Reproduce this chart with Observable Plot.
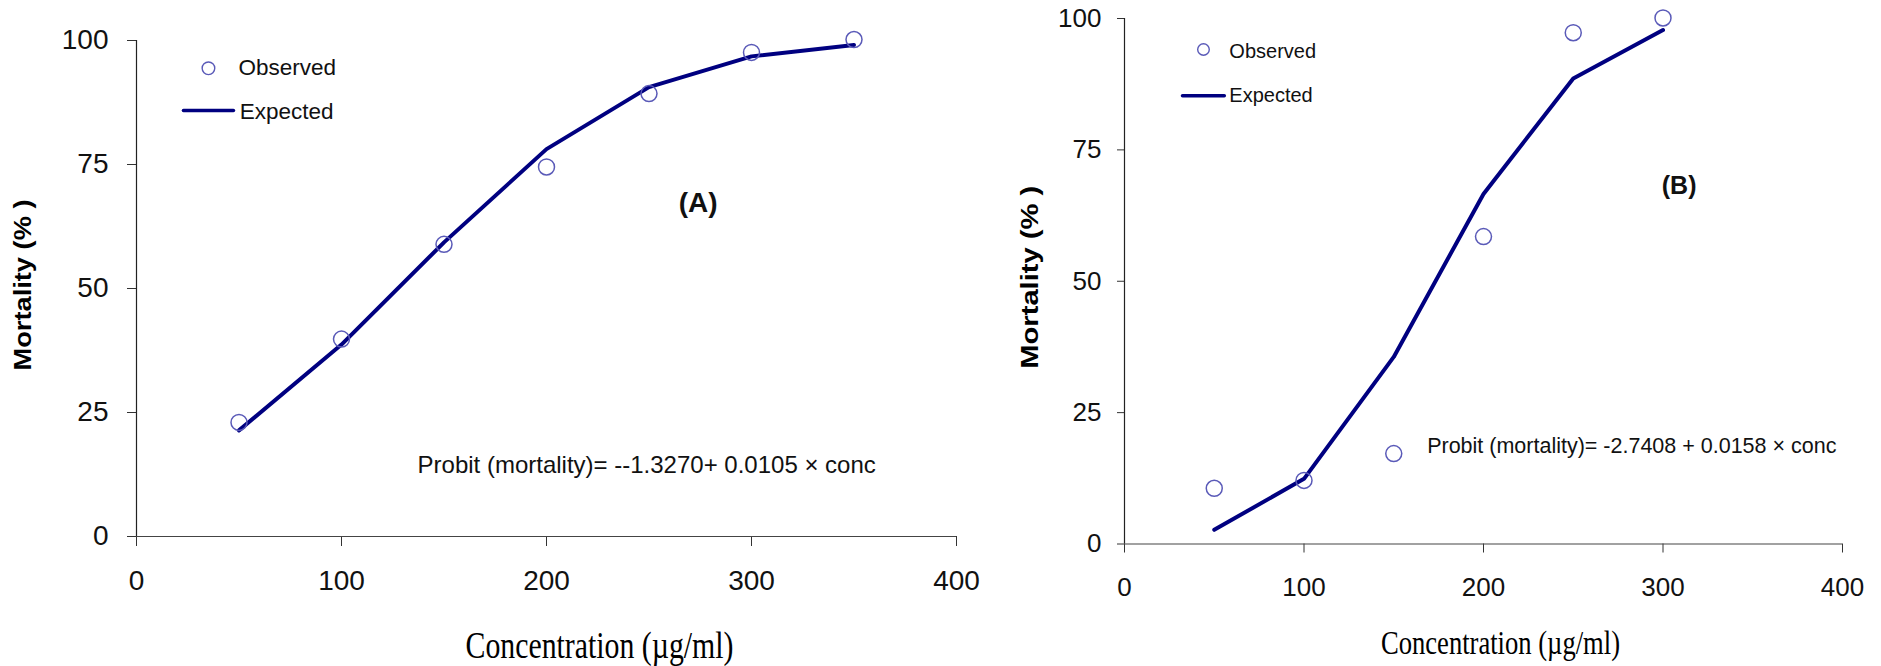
<!DOCTYPE html>
<html><head><meta charset="utf-8">
<script src="https://cdn.jsdelivr.net/npm/d3@7"></script>
<script src="https://cdn.jsdelivr.net/npm/@observablehq/plot@0.6"></script>
<style>
html,body{margin:0;padding:0;background:#fff;}
#wrap{display:flex;width:1881px;height:666px;overflow:hidden;}
svg{display:block;}
</style></head><body><div id="wrap"></div>
<script>
// ---- data ----
const concA = [50, 100, 150, 200, 250, 300, 350];
const observedA = [23.0, 39.8, 58.9, 74.5, 89.3, 97.6, 100.2];
const expectedA = [21.4, 38.7, 59.3, 78.1, 90.6, 96.8, 99.1];

const concB = [50, 100, 150, 200, 250, 300];
const observedB = [10.6, 12.1, 17.2, 58.5, 97.3, 100.1];
const expectedB = [2.7, 12.4, 35.6, 66.6, 88.6, 97.8];

const xTicks = [0, 100, 200, 300, 400];
const yTicks = [0, 25, 50, 75, 100];
const xLabel = "Concentration (µg/ml)";
const yLabel = "Mortality (% )";
const eqA = "Probit (mortality)= --1.3270+ 0.0105 × conc";
const eqB = "Probit (mortality)= -2.7408 + 0.0158 × conc";
const panelLabels = ["(A)", "(B)"];
const legendLabels = ["Observed", "Expected"];

const lineColor = "#000080";
const dotColor = "#5a5ab8";
const sans = "'Liberation Sans', Arial, sans-serif";
const serif = "'Liberation Serif', 'Times New Roman', serif";

function panel(c) {
  const obs = c.conc.map((x, i) => ({x, y: c.observed[i]}));
  const exp = c.conc.map((x, i) => ({x, y: c.expected[i]}));
  const svg = Plot.plot({
    width: c.width, height: 666,
    marginLeft: c.ml, marginRight: c.mr, marginTop: c.mt, marginBottom: c.mb,
    style: {fontFamily: sans, color: "#000", background: "#fff", overflow: "visible"},
    x: {domain: [0, 400]},
    y: {domain: [0, 100]},
    marks: [
      Plot.axisX(xTicks, {tickSize: c.xts, tickPadding: c.xtp, fontSize: c.tickFont, label: null, stroke: "#333", fill: "#111"}),
      Plot.axisY(yTicks, {tickSize: c.yts, tickPadding: c.ytp, fontSize: c.tickFont, label: null, stroke: "#333", fill: "#111"}),
      Plot.ruleY([0], {stroke: "#444", strokeWidth: 1.2}),
      Plot.ruleX([0], {stroke: "#222", strokeWidth: 1.2}),
      Plot.line(exp, {x: "x", y: "y", stroke: lineColor, strokeWidth: 4, strokeLinecap: "round"}),
      Plot.dot(obs, {x: "x", y: "y", r: 8, stroke: dotColor, strokeWidth: 1.5, fill: "none"}),
      // legend
      Plot.dot([legendLabels[0]], {x: () => c.leg.dx, y: () => c.leg.dy, r: c.leg.r, stroke: dotColor, strokeWidth: 1.4, fill: "none"}),
      Plot.line([c.leg.lx1, c.leg.lx2], {x: d => d, y: () => c.leg.ly, stroke: lineColor, strokeWidth: 3.5}),
      Plot.text([legendLabels[0]], {x: () => c.leg.tx, y: () => c.leg.ty1, text: d => d, textAnchor: "start", lineAnchor: "bottom", fontSize: c.leg.font, fill: "#111"}),
      Plot.text([legendLabels[1]], {x: () => c.leg.tx2, y: () => c.leg.ty2, text: d => d, textAnchor: "start", lineAnchor: "bottom", fontSize: c.leg.font, fill: "#111"}),
      // annotations
      Plot.text([c.eq], {x: () => c.eqX, y: () => c.eqY, text: d => d, textAnchor: "start", lineAnchor: "bottom", fontSize: c.eqFont, fill: "#111"}),
      Plot.text([c.tag], {x: () => c.tagX, y: () => c.tagY, text: d => d, textAnchor: "middle", lineAnchor: "bottom", fontSize: c.tagFont, fontWeight: "bold", fill: "#111"}),
      // axis titles
      Plot.text([xLabel], {frameAnchor: "bottom", dx: c.xlDx, dy: c.xlDy, text: d => d, textAnchor: "middle", lineAnchor: "bottom", fontSize: c.xlFont, fontFamily: serif, fill: "#000"}),
      Plot.text([yLabel], {frameAnchor: "left", rotate: -90, dx: c.ylDx, dy: c.ylDy, text: d => d, textAnchor: "middle", lineAnchor: "middle", fontSize: c.ylFont, fontWeight: "bold", fill: "#000"})
    ]
  });
  const s = d3.select(svg);
  s.selectAll("text").filter(function () { return this.textContent === xLabel; })
    .attr("textLength", c.xlLen).attr("lengthAdjust", "spacingAndGlyphs");
  s.selectAll("text").filter(function () { return this.textContent === yLabel; })
    .attr("textLength", c.ylLen).attr("lengthAdjust", "spacingAndGlyphs");
  return svg;
}

const wrap = document.getElementById("wrap");
wrap.appendChild(panel({
  conc: concA, observed: observedA, expected: expectedA,
  width: 1000, ml: 136, mr: 44, mt: 40, mb: 130,
  xts: 10, xtp: 24, yts: 9, ytp: 19, tickFont: 28,
  eq: eqA, eqX: 137.1, eqY: 12.9, eqFont: 24,
  tag: panelLabels[0], tagX: 274, tagY: 65.5, tagFont: 28,
  leg: {dx: 35.1, dy: 94.4, r: 6.3, tx: 49.8, ty1: 93.1, lx1: 22.9, lx2: 47.3, ly: 85.9, tx2: 50.4, ty2: 84.2, font: 22.5},
  xlDx: 53, xlDy: 121, xlFont: 37, xlLen: 268,
  ylDx: -113, ylDy: -3.5, ylFont: 24.5, ylLen: 171
}));
wrap.appendChild(panel({
  conc: concB, observed: observedB, expected: expectedB,
  width: 881, ml: 124, mr: 39, mt: 18, mb: 122.5,
  xts: 9, xtp: 25, yts: 7, ytp: 16, tickFont: 26,
  eq: eqB, eqX: 168.6, eqY: 17.4, eqFont: 21.5,
  tag: panelLabels[1], tagX: 309, tagY: 66.6, tagFont: 25,
  leg: {dx: 44, dy: 94.1, r: 5.8, tx: 58.4, ty1: 92.5, lx1: 32.3, lx2: 55.6, ly: 85.3, tx2: 58.4, ty2: 84.1, font: 20},
  xlDx: 17, xlDy: 109.5, xlFont: 33, xlLen: 239,
  ylDx: -94.3, ylDy: -4, ylFont: 24, ylLen: 183
}));
</script>
</body></html>
